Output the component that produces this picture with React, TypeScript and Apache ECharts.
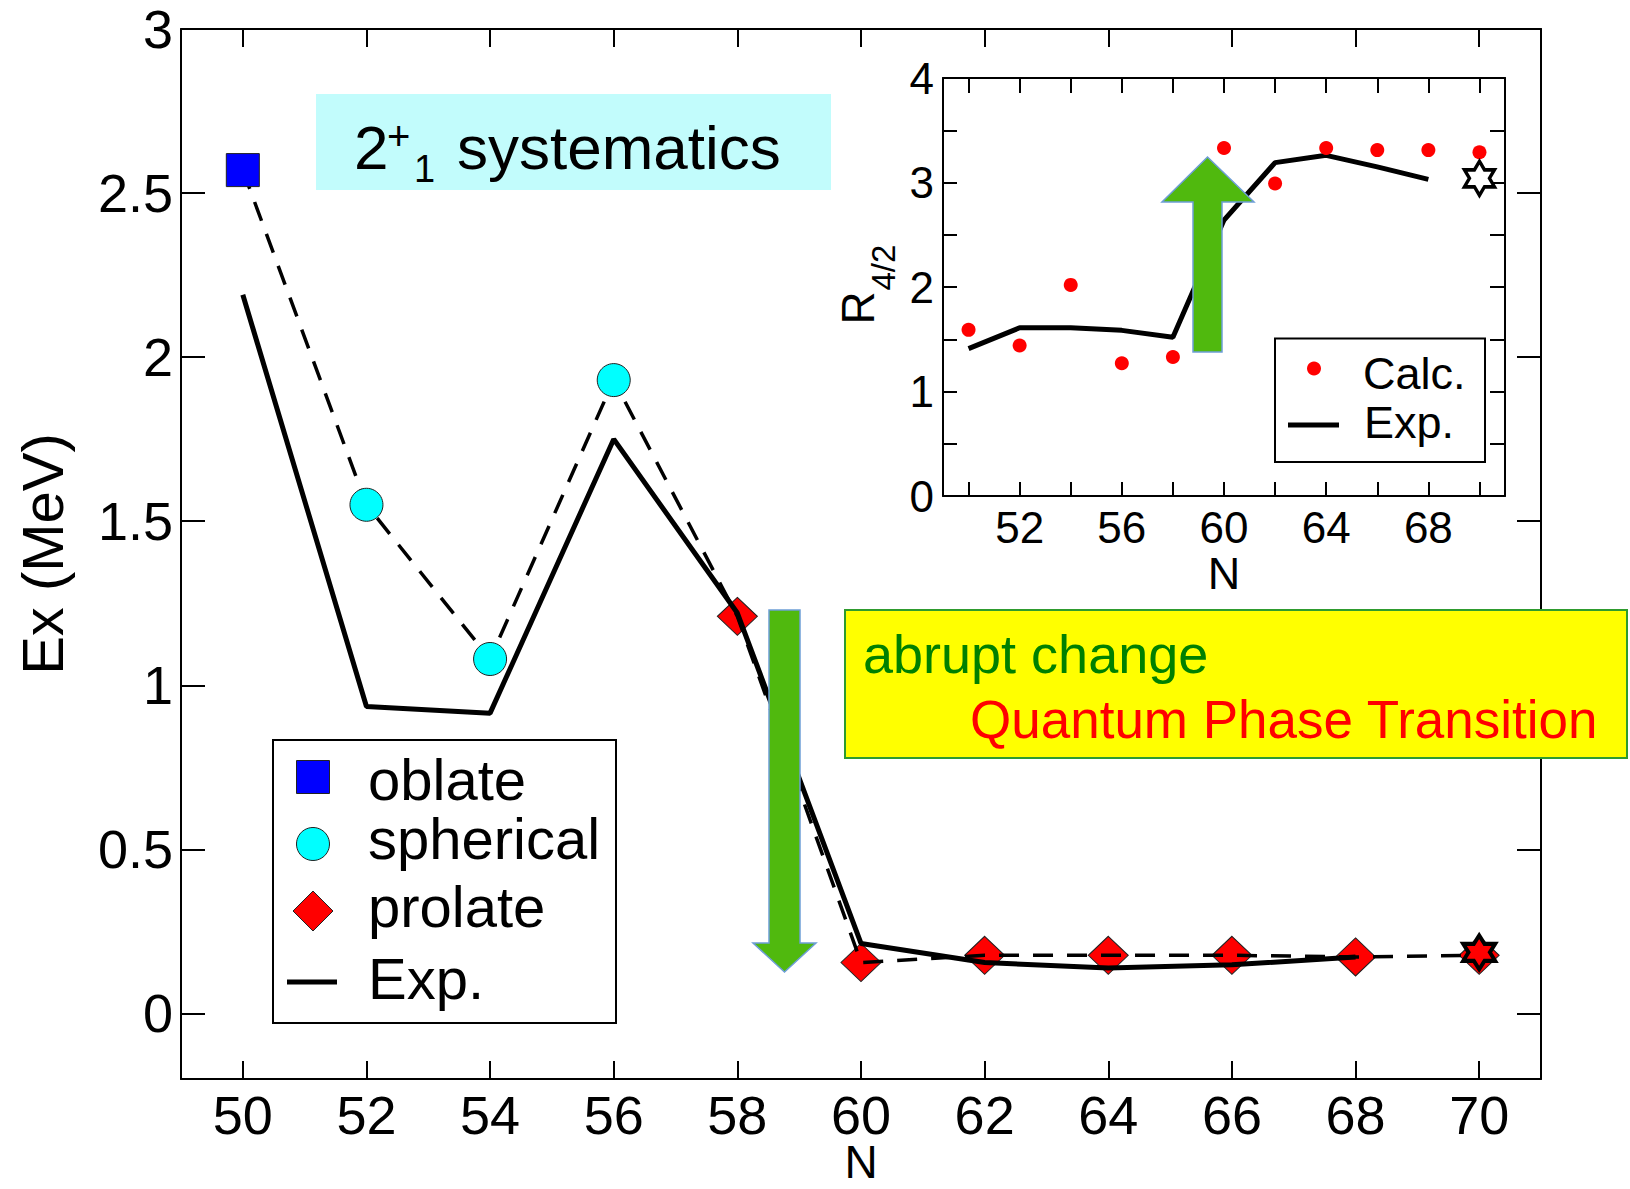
import React, { useEffect, useRef } from 'react';
import * as echarts from 'echarts';

const FONT = '"Liberation Sans", Arial, Helvetica, sans-serif';

// ---------- Main panel data: 2+1 excitation energies ----------
const calcN = [50, 52, 54, 56, 58, 60, 62, 64, 66, 68, 70];
const calcEx = [2.57, 1.55, 1.08, 1.93, 1.21, 0.155, 0.177, 0.177, 0.177, 0.172, 0.177];
const calcShape = ['oblate', 'spherical', 'spherical', 'spherical', 'prolate', 'prolate', 'prolate', 'prolate', 'prolate', 'prolate', 'prolate'];
const expN = [50, 52, 54, 56, 58, 60, 62, 64, 66, 68];
const expEx = [2.19, 0.935, 0.915, 1.75, 1.22, 0.213, 0.155, 0.138, 0.148, 0.172];
const mainStar = [70, 0.186];
const mainXTicks = [50, 52, 54, 56, 58, 60, 62, 64, 66, 68, 70];
const mainYTicks = [0, 0.5, 1, 1.5, 2, 2.5, 3];

// ---------- Inset data: R4/2 ----------
const insetCalcN = [50, 52, 54, 56, 58, 60, 62, 64, 66, 68, 70];
const insetCalcR = [1.59, 1.44, 2.02, 1.27, 1.33, 3.33, 2.99, 3.33, 3.31, 3.31, 3.29];
const insetExpN = [50, 52, 54, 56, 58, 60, 62, 64, 66, 68];
const insetExpR = [1.41, 1.61, 1.61, 1.585, 1.52, 2.64, 3.19, 3.26, 3.15, 3.03];
const insetStar = [70, 3.04];
const insetXTicks = [50, 52, 54, 56, 58, 60, 62, 64, 66, 68, 70];
const insetXLabels = [52, 56, 60, 64, 68];
const insetYTicks = [0, 0.5, 1, 1.5, 2, 2.5, 3, 3.5, 4];
const insetYLabels = [0, 1, 2, 3, 4];

const HEXAGRAM = 'path://M0,-10L2.887,-5L8.66,-5L5.774,0L8.66,5L2.887,5L0,10L-2.887,5L-8.66,5L-5.774,0L-8.66,-5L-2.887,-5Z';

function pick(shape: string) {
  const out: number[][] = [];
  calcN.forEach((n, i) => {
    if (calcShape[i] === shape) out.push([n, calcEx[i]]);
  });
  return out;
}

function xAx(gridIndex: number, position: string, ticks: number[], labels: number[] | null, tickLen: number, fontSize: number, margin: number, labelLH: number, name?: string, nameGap?: number, nameSize?: number, nameLH?: number) {
  return {
    type: 'value',
    gridIndex,
    position,
    min: 49,
    max: 71,
    axisLine: { show: true, onZero: false, lineStyle: { color: '#000', width: 2 } },
    axisTick: { show: true, inside: true, length: tickLen, customValues: ticks, lineStyle: { color: '#000', width: 2 } },
    axisLabel: labels
      ? { show: true, customValues: labels, fontSize, lineHeight: labelLH, color: '#000', margin, fontFamily: FONT }
      : { show: false },
    splitLine: { show: false },
    name: name || '',
    nameLocation: 'middle',
    nameGap: nameGap || 0,
    nameMoveOverlap: false,
    nameTextStyle: { fontSize: nameSize || fontSize, lineHeight: nameLH || nameSize || fontSize, color: '#000', fontFamily: FONT },
  };
}

function yAx(gridIndex: number, position: string, min: number, max: number, ticks: number[], labels: number[] | null, tickLen: number, fontSize: number, margin: number, name?: string, nameGap?: number, nameSize?: number) {
  return {
    type: 'value',
    gridIndex,
    position,
    min,
    max,
    axisLine: { show: true, onZero: false, lineStyle: { color: '#000', width: 2 } },
    axisTick: { show: true, inside: true, length: tickLen, customValues: ticks, lineStyle: { color: '#000', width: 2 } },
    axisLabel: labels
      ? { show: true, customValues: labels, fontSize, color: '#000', margin, fontFamily: FONT }
      : { show: false },
    splitLine: { show: false },
    name: name || '',
    nameLocation: 'middle',
    nameRotate: 90,
    nameGap: nameGap || 0,
    nameMoveOverlap: false,
    nameTextStyle: { fontSize: nameSize || fontSize, color: '#000', fontFamily: FONT },
  };
}

function txt(text: string, x: number, y: number, fontSize: number, fill = '#000', align = 'left') {
  return {
    type: 'text',
    x,
    y,
    z: 20,
    silent: true,
    style: { text, fontSize, fontFamily: FONT, fill, align, verticalAlign: 'middle' },
  };
}

export default function App() {
  const ref = useRef<HTMLDivElement>(null);

  useEffect(() => {
    if (!ref.current) return;
    const chart = echarts.init(ref.current, undefined, { renderer: 'svg' });

    const option: any = {
      animation: false,
      backgroundColor: '#fff',
      grid: [
        { left: 181, right: 89, top: 29, bottom: 110, show: false, containLabel: false, outerBoundsMode: 'none' },
        { left: 943, right: 125, top: 78, bottom: 693, show: true, backgroundColor: '#fff', borderWidth: 0, containLabel: false, outerBoundsMode: 'none' },
      ],
      xAxis: [
        xAx(0, 'bottom', mainXTicks, mainXTicks, 18, 54, 14, 44, 'N', 63, 46, 40),
        xAx(0, 'top', mainXTicks, null, 18, 54, 10, 54),
        xAx(1, 'bottom', insetXTicks, insetXLabels, 14, 44, 9, 44, 'N', 55, 45, 44),
        xAx(1, 'top', insetXTicks, null, 15, 44, 9, 44),
      ],
      yAxis: [
        yAx(0, 'left', -0.2, 3, mainYTicks, mainYTicks, 24, 54, 8, 'Ex (MeV)', 110, 58),
        yAx(0, 'right', -0.2, 3, mainYTicks, null, 24, 54, 8),
        yAx(1, 'left', 0, 4, insetYTicks, insetYLabels, 14, 44, 9),
        yAx(1, 'right', 0, 4, insetYTicks, null, 15, 44, 9),
      ],
      series: [
        {
          type: 'line',
          xAxisIndex: 0,
          yAxisIndex: 0,
          data: calcN.map((n, i) => [n, calcEx[i]]),
          symbol: 'none',
          lineStyle: { color: '#000', width: 3.5, type: [20, 14] },
          z: 3,
          silent: true,
        },
        {
          type: 'scatter',
          xAxisIndex: 0,
          yAxisIndex: 0,
          data: pick('prolate'),
          symbol: 'diamond',
          symbolSize: [40, 38],
          itemStyle: { color: '#FF0000', borderColor: '#222', borderWidth: 1, opacity: 1 },
          z: 2,
          silent: true,
        },
        {
          type: 'line',
          xAxisIndex: 0,
          yAxisIndex: 0,
          data: expN.map((n, i) => [n, expEx[i]]),
          symbol: 'none',
          lineStyle: { color: '#000', width: 5 },
          z: 4,
          silent: true,
        },
        {
          type: 'scatter',
          xAxisIndex: 0,
          yAxisIndex: 0,
          data: pick('spherical'),
          symbol: 'circle',
          symbolSize: 33,
          itemStyle: { color: '#00FFFF', borderColor: '#222', borderWidth: 1, opacity: 1 },
          z: 5,
          silent: true,
        },
        {
          type: 'scatter',
          xAxisIndex: 0,
          yAxisIndex: 0,
          data: pick('oblate'),
          symbol: 'rect',
          symbolSize: 33,
          itemStyle: { color: '#0000FF', borderColor: '#222', borderWidth: 1, opacity: 1 },
          z: 5,
          silent: true,
        },
        {
          type: 'scatter',
          xAxisIndex: 0,
          yAxisIndex: 0,
          data: [mainStar],
          symbol: HEXAGRAM,
          symbolSize: [32, 34],
          itemStyle: { color: '#FF0000', borderColor: '#000', borderWidth: 4, opacity: 1 },
          z: 6,
          silent: true,
        },
        {
          type: 'line',
          xAxisIndex: 2,
          yAxisIndex: 2,
          data: insetExpN.map((n, i) => [n, insetExpR[i]]),
          symbol: 'none',
          lineStyle: { color: '#000', width: 5 },
          z: 4,
          silent: true,
        },
        {
          type: 'scatter',
          xAxisIndex: 2,
          yAxisIndex: 2,
          data: insetCalcN.map((n, i) => [n, insetCalcR[i]]),
          symbol: 'circle',
          symbolSize: 14,
          itemStyle: { color: '#FF0000', opacity: 1 },
          z: 5,
          silent: true,
        },
        {
          type: 'scatter',
          xAxisIndex: 2,
          yAxisIndex: 2,
          data: [insetStar],
          symbol: HEXAGRAM,
          symbolSize: [30, 34],
          itemStyle: { color: '#FFFFFF', borderColor: '#000', borderWidth: 3.5, opacity: 1 },
          z: 6,
          silent: true,
        },
      ],
      graphic: [
        // title box
        { type: 'rect', z: 10, silent: true, shape: { x: 316, y: 94, width: 515, height: 96 }, style: { fill: '#C2FCFC' } },
        txt('2', 354, 147, 62),
        txt('+', 387, 136, 40),
        txt('1', 414, 169, 38),
        txt('systematics', 457, 147, 62),
        // yellow annotation box
        { type: 'rect', z: 10, silent: true, shape: { x: 845, y: 610, width: 782, height: 148 }, style: { fill: '#FFFF00', stroke: '#2E9B2E', lineWidth: 2 } },
        txt('abrupt change', 863, 654, 54, '#008000'),
        txt('Quantum Phase Transition', 970, 719, 53, '#FF0000'),
        // down arrow
        {
          type: 'polygon', z: 12, silent: true,
          shape: { points: [[769, 610], [800, 610], [800, 943], [816, 943], [784.5, 972], [753, 943], [769, 943]] },
          style: { fill: '#50B90E', stroke: '#6E9ED6', lineWidth: 1.5 },
        },
        // up arrow (inset)
        {
          type: 'polygon', z: 12, silent: true,
          shape: { points: [[1193, 352], [1222, 352], [1222, 202], [1254, 202], [1207.5, 157], [1162, 202], [1193, 202]] },
          style: { fill: '#50B90E', stroke: '#6E9ED6', lineWidth: 1.5 },
        },
        // main legend
        { type: 'rect', z: 10, silent: true, shape: { x: 273, y: 740, width: 343, height: 283 }, style: { fill: '#fff', stroke: '#000', lineWidth: 2 } },
        { type: 'rect', z: 11, silent: true, shape: { x: 296.5, y: 760.5, width: 33, height: 33 }, style: { fill: '#0000FF', stroke: '#222', lineWidth: 1 } },
        { type: 'circle', z: 11, silent: true, shape: { cx: 313, cy: 844, r: 16.5 }, style: { fill: '#00FFFF', stroke: '#222', lineWidth: 1 } },
        { type: 'polygon', z: 11, silent: true, shape: { points: [[313, 891], [333, 911], [313, 931], [293, 911]] }, style: { fill: '#FF0000', stroke: '#222', lineWidth: 1 } },
        { type: 'line', z: 11, silent: true, shape: { x1: 287, y1: 982, x2: 337, y2: 982 }, style: { stroke: '#000', lineWidth: 5 } },
        txt('oblate', 368, 779, 58),
        txt('spherical', 368, 838, 58),
        txt('prolate', 368, 906, 58),
        txt('Exp.', 368, 978, 58),
        // inset legend
        { type: 'rect', z: 10, silent: true, shape: { x: 1275, y: 338.5, width: 210, height: 123.5 }, style: { fill: '#fff', stroke: '#000', lineWidth: 2 } },
        { type: 'circle', z: 11, silent: true, shape: { cx: 1314, cy: 368.5, r: 7 }, style: { fill: '#FF0000' } },
        { type: 'line', z: 11, silent: true, shape: { x1: 1288, y1: 425, x2: 1339, y2: 425 }, style: { stroke: '#000', lineWidth: 5 } },
        txt('Calc.', 1363, 373, 45),
        txt('Exp.', 1364, 422.5, 45),
        // inset y-axis name R_{4/2}, rotated
        {
          type: 'group', x: 874, y: 324.5, rotation: Math.PI / 2, silent: true, z: 20,
          children: [
            { type: 'text', x: 0, y: -16, z: 20, style: { text: 'R', fontSize: 46, fontFamily: FONT, fill: '#000', align: 'left', verticalAlign: 'middle' } },
            { type: 'text', x: 34, y: 9, z: 20, style: { text: '4/2', fontSize: 33, fontFamily: FONT, fill: '#000', align: 'left', verticalAlign: 'middle' } },
          ],
        },
      ],
    };

    chart.setOption(option);
    return () => {
      chart.dispose();
    };
  }, []);

  return (
    <div
      ref={ref}
      style={{ position: 'absolute', left: 0, top: 0, width: 1630, height: 1189, background: '#fff' }}
    />
  );
}
